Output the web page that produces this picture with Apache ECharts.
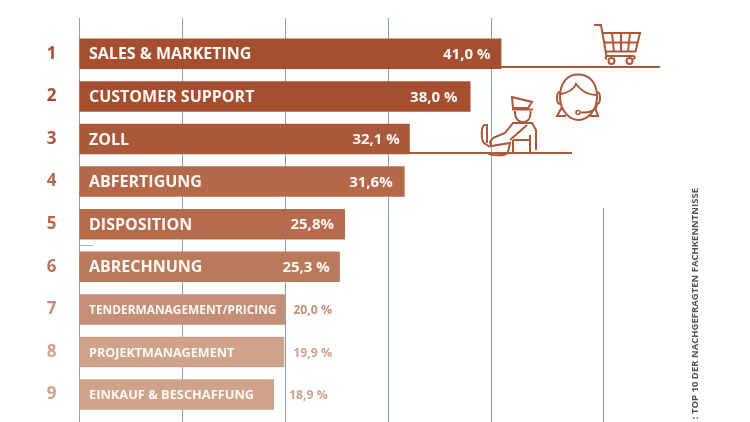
<!DOCTYPE html>
<html><head><meta charset="utf-8">
<style>html,body{margin:0;padding:0;background:#fff}#c{width:750px;height:422px}</style>
<script src="https://cdn.jsdelivr.net/npm/echarts@6/dist/echarts.min.js"></script>
</head><body><div id="c"></div>
<script>
const ranks = ['1','2','3','4','5','6','7','8','9','10'];
const names = ['SALES & MARKETING','CUSTOMER SUPPORT','ZOLL','ABFERTIGUNG','DISPOSITION','ABRECHNUNG','TENDERMANAGEMENT/PRICING','PROJEKTMANAGEMENT','EINKAUF & BESCHAFFUNG',''];
const values = [41.0,38.0,32.1,31.6,25.8,25.3,20.0,19.9,18.9,14.6];
const valueLabels = ['41,0 %','38,0 %','32,1 %','31,6%','25,8%','25,3 %','20,0 %','19,9 %','18,9 %',''];
const barColors = ['#a54f30','#a54f30','#a95a3b','#b3694a','#b56b4c','#b97a5c','#c48f76','#cfa38b','#cfa38b','#e2c8b8'];
const nameSizes = [16,16,16,16,16,16,11.9,12.6,12.8,12];
const valueSizes = [15,15,15,15,15,15,12.3,12.3,12.3,12];
const valueGaps = [11,13,10,12,11,10,8,9,15,8];
const captionText = ': TOP 10 DER NACHGEFRAGTEN FACHKENNTNISSE';

const FONT = 'Open Sans';
const ink = '#a9593a';
const cart = 'M594 25H601L606.5 56H634M602 33H640L635.5 51.5L605.5 51.5M612 33L614 51.5M621 33V51.5M630 33L628 51.5M603.5 42.5H638M606.5 56Q604.5 58 607 59M634 56Q636 58 633 59';
const head = 'M560 97C560 82 568 74.5 578 74.5C589 74.5 597 82 597 97C597 110 588 120 578.5 120C569 120 560 110 560 97ZM561 94C570 92 574 89 576 84C582 92 590 95 596 95M560 92C558 92 557 94 557 98C557 102 558 104 560 104M597 92C599 92 600 94 600 98C600 102 599 104 597 104M562 107L557 116H566M595 107L598 116H590M597 105C596 110 590 113 581 112.5';
const officer = 'M512 97L532 102L528 108H513ZM512 109.5H533M515 111V113C515 118 518 122 523 122C528 122 530.5 118 530.5 113V111M493 138L505 133L513 123H532L536 130V150M510 140L527 125M513 140V153M530 135V153M513 140H530M493 138L490 142L491 146L510 143L508 152M484 125C481 128 481 140 484 143L490 147M484 125H487V143M488 153C490 156 505 156 508 153';
const iconPaths = [cart, head, officer];

const chart = echarts.init(document.getElementById('c'), null, {renderer:'canvas'});
chart.setOption({
  animation:false,
  grid:[
    {left:79.5, top:32.5, width:514.5, height:426, outerBoundsMode:'none'},
    {left:79.5, top:18, width:514.5, height:404, outerBoundsMode:'none'}
  ],
  xAxis:[
    {type:'value',gridIndex:0,min:0,max:50,show:false},
    {type:'value',gridIndex:1,min:0,max:50,interval:10,
     axisLine:{show:false},axisTick:{show:false},axisLabel:{show:false},
     splitLine:{show:true,showMaxLine:false,lineStyle:{color:'#8ea3a8',width:1}}}
  ],
  yAxis:[
    {type:'category',gridIndex:0,inverse:true,data:ranks,
     axisLine:{show:false},axisTick:{show:false},splitLine:{show:false},
     axisLabel:{margin:23,align:'right',padding:[0,0,2,0],fontFamily:FONT,fontWeight:'bold',fontSize:17,
       color:(v,i)=>i<2?'#a54f30':barColors[i]}},
    {type:'value',gridIndex:1,min:0,max:1,show:false}
  ],
  series:[
    {type:'bar',xAxisIndex:0,yAxisIndex:0,barWidth:30.5,barGap:'-100%',z:3,
     data:values.map((v,i)=>({value:v,itemStyle:{color:barColors[i]},
       label:{show:true,position:'insideLeft',distance:9.5,offset:[0,1],formatter:names[i],color:'#fdf8f4',
              fontFamily:FONT,fontWeight:'bold',fontSize:nameSizes[i]}}))},
    {type:'bar',xAxisIndex:0,yAxisIndex:0,barWidth:30.5,barGap:'-100%',z:4,silent:true,
     data:values.map((v,i)=>({value:v,itemStyle:{color:'transparent'},
       label:{show:true,position:i<6?'insideRight':'right',distance:valueGaps[i],offset:[0,1],formatter:valueLabels[i],
              color:i<6?'#fdf8f4':barColors[i],fontFamily:FONT,fontWeight:'bold',fontSize:valueSizes[i]}}))},
    {type:'custom',coordinateSystem:'none',z:6,silent:true,data:[0],
     renderItem:()=>({type:'group',children:iconPaths.map(d=>({type:'path',shape:{pathData:d},
        style:{fill:null,stroke:ink,lineWidth:2}}))})}
  ],
  graphic:[
    {type:'line',z:1,shape:{x1:603.5,y1:208,x2:603.5,y2:422},style:{stroke:'#8ea3a8',lineWidth:1}},
    {type:'line',z:1,shape:{x1:80,y1:245.5,x2:93,y2:245.5},style:{stroke:'#a9b8bb',lineWidth:1}},
    {type:'line',z:5,shape:{x1:500,y1:67,x2:660,y2:67},style:{stroke:ink,lineWidth:2}},
    {type:'line',z:5,shape:{x1:408,y1:153,x2:572,y2:153},style:{stroke:ink,lineWidth:2}},
    {type:'circle',z:5,shape:{cx:611.5,cy:61,r:3},style:{fill:'#fff',stroke:ink,lineWidth:2}},
    {type:'circle',z:5,shape:{cx:629.5,cy:61,r:3},style:{fill:'#fff',stroke:ink,lineWidth:2}},
    {type:'circle',z:5,shape:{cx:578,cy:112.5,r:2},style:{fill:'#fff',stroke:ink,lineWidth:1.6}},
    {type:'text',z:5,x:695,y:188,rotation:Math.PI/2,originX:0,originY:0,
     style:{text:captionText,fill:'#555',fontFamily:FONT,fontWeight:'bold',fontSize:9.5,align:'right',verticalAlign:'middle'}}
  ]
});
</script></body></html>
